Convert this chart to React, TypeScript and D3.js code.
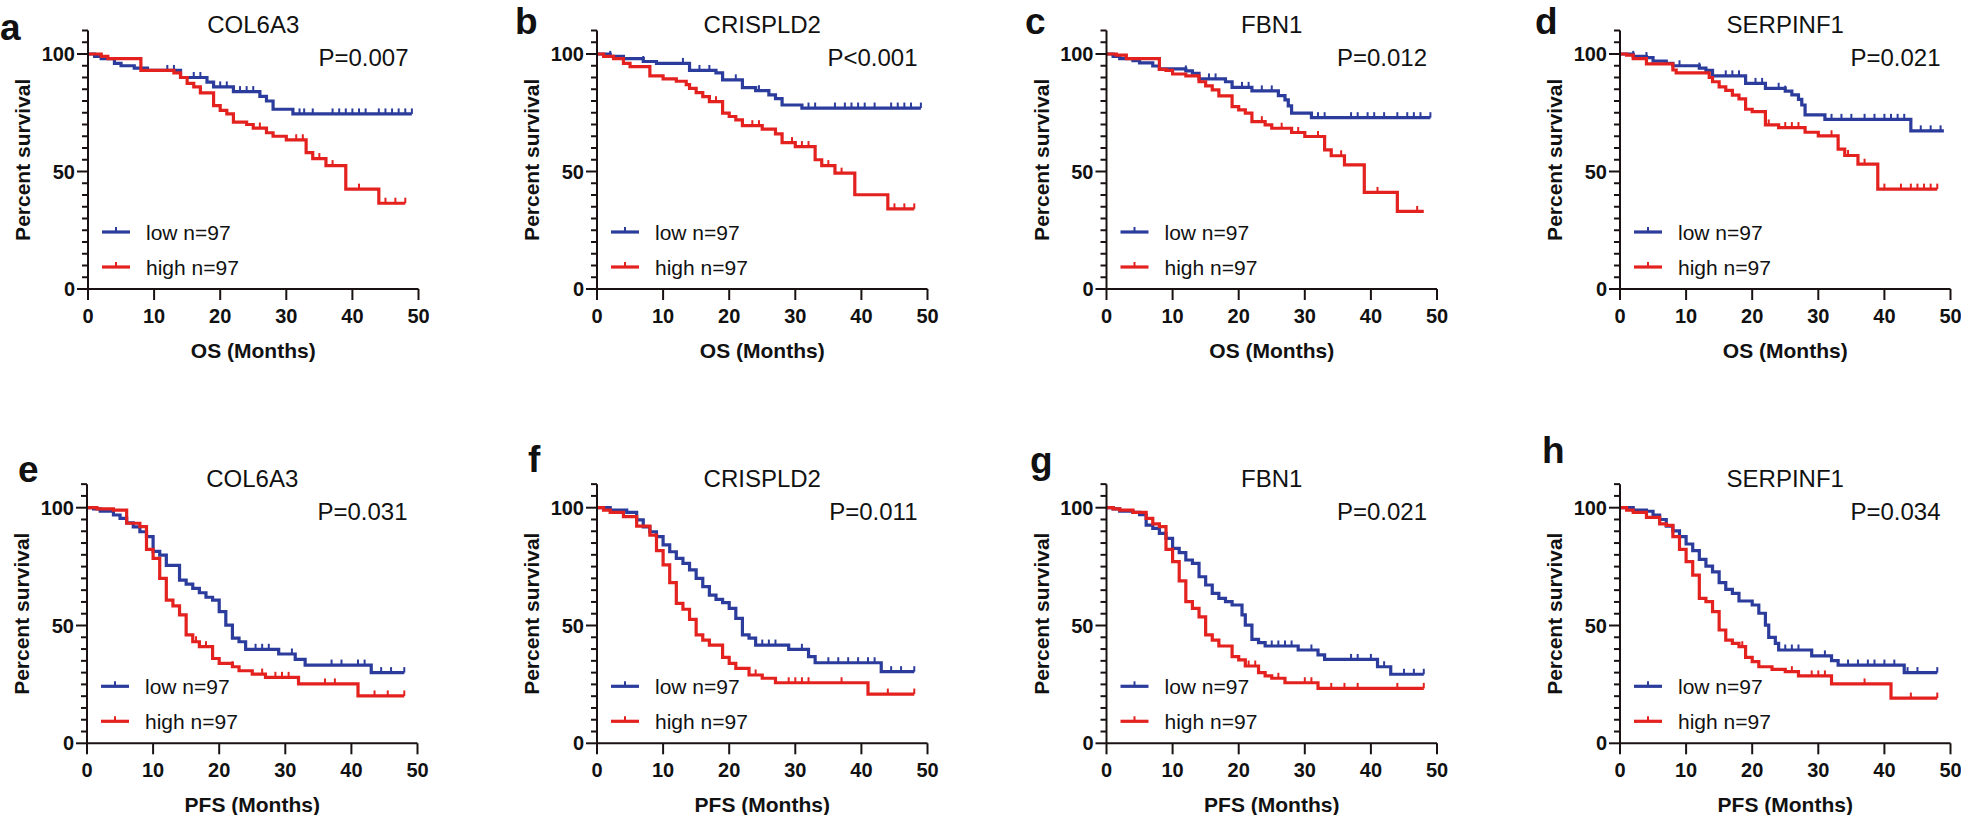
import React from "react";
import * as d3 from "d3";

// ---------- DATA ----------
// step points: [month, percent survival after the step]; censor: months
const osCol6a3Low = [[1,99],[2,98],[4,96],[5,95],[7,94],[9,93],[14,90],[18,88],[19,86],[22,84],[26,82],[27,80],[28,76.5],[31,74.5]];
const osCol6a3LowCensor = [12,13,16,17,20,21,23,24,25,32,32.7,34,37,38,39,40,41,42,44,45,46,47,48,49];
const osCol6a3High = [[2,99],[3,98],[8,93],[13,92],[14,90],[15,87.5],[16,86],[17,83.5],[19,78],[20,76],[21,74.5],[22,71],[24,70],[25,68.5],[27,66.5],[28,65],[30,63.5],[33,58],[34,55.5],[36,52.5],[39,42.5],[44,36.5]];
const osCol6a3HighCensor = [26,31.5,32.5,35,37,41,45,46.5,48];

const osCrispld2Low = [[2,99],[4,98],[7,96.8],[9,96],[14,93],[18,92],[19,89],[22,85.7],[24,84.4],[26,82.6],[27,81],[28,78.3],[31,77]];
const osCrispld2LowCensor = [2,7,13,15.5,17,21,24.5,32,33,36,37.5,38.5,39.5,40.5,42,44.5,45.5,46.5,47.5,49];
const osCrispld2High = [[1,99],[2.5,98],[4,96],[5,94.6],[8,90.7],[10,89.4],[12,88.4],[13.5,87],[14,85.4],[15,83.6],[16,81.9],[17,79.7],[19,74.8],[20,73.4],[21,72],[22,69.5],[25,68],[27,66],[28,62.3],[30,60.6],[33,55],[34,52.5],[36,49.3],[39,40.1],[44,34.1]];
const osCrispld2HighCensor = [18,23.5,24.5,29.5,31,32,35,37,45,46.5,48];

const osFbn1Low = [[1,99],[2,98],[4,97.2],[5,96.2],[7,94.9],[8,93.7],[12,92.8],[13,91.8],[14,89.4],[18,88.2],[19,85.8],[22,84.3],[26,82.3],[27,80.5],[27.5,77.9],[28,74.8],[31,72.9]];
const osFbn1LowCensor = [12,15.5,16.5,20.5,21.5,23.5,25,26,32,33,37,38,39.5,40.5,42,44,45.5,46.5,47.5,49];
const osFbn1High = [[1.5,99.5],[3,98],[8,93.5],[9,93],[10,91.5],[12,90.7],[14,88.2],[15,86.4],[16,84.7],[17,82.2],[19,77.6],[20,76.2],[21,74.8],[22,71.2],[24,69.8],[25,68.4],[28,66.6],[30,64.9],[33,59.2],[34,56.7],[36,52.8],[39,41.1],[44,33]];
const osFbn1HighCensor = [23.5,26.5,29,32,35.5,41,47];

const osSerpinf1Low = [[2,99],[4,98.5],[5,97],[7,96],[8,95],[12,94],[13,93],[14,90.7],[19,87.5],[22,85.4],[25,84.2],[26,82.6],[27,80.7],[27.5,78.3],[28,74.1],[31,72.2],[44,67.3]];
const osSerpinf1LowCensor = [2,4,9,12,16,17,18,20.5,21.5,24,25,32,33.5,35,37,38.5,40,41,42,43,45.5,47,48.5];
const osSerpinf1High = [[1,99.5],[2,98],[4,95.8],[8,93.2],[8.5,92],[13.5,90],[14,88.2],[15,86],[16,84.5],[17,82.5],[18,80.9],[19,76.5],[20,75.5],[22,69.8],[24,68.7],[28,66.7],[30,65.2],[33,59.5],[34,56.8],[36,53.1],[39,42.5]];
const osSerpinf1HighCensor = [22.5,25,26,27,28,32,34.5,37,40,42.5,44,45,46,47,48];

const pfsCol6a3Low = [[1,99.5],[2,98.5],[4,96.9],[5,95.5],[6,93.6],[7,91.9],[8,89.8],[9,87.7],[10,81.5],[11,79.9],[12,75.5],[14,69.3],[15,67.6],[16,65.8],[17,63.9],[18,62],[19,60.8],[20,55.9],[21,50.2],[22,44.6],[23,43.1],[24,39.9],[29,37.9],[31.5,35.6],[33,33.2],[43,30]];
const pfsCol6a3LowCensor = [25.5,26.5,27.5,31,37,38.5,41,42,44.5,46,48];
const pfsCol6a3High = [[1.5,99.5],[4,99],[6,93.4],[8,92],[9,82.3],[10,78.5],[11,70],[12,60.8],[13,58.3],[14,54.5],[15,46],[16,43.1],[17,41],[19,36],[20,33.9],[22,32.5],[23,30.8],[25,29.4],[27,28],[32,25.2],[41,20.1]];
const pfsCol6a3HighCensor = [16.5,18,22,26.5,28.5,29.5,30.5,36,37.5,43.5,45.5,48];

const pfsCrispld2Low = [[2,99],[4.5,98],[6,94.8],[7,91.9],[8,89.8],[9,87.7],[10,84.2],[11,81.3],[12,78.5],[13,76.4],[14,73.6],[15,70],[16,66.5],[17,62.9],[18,61.1],[19,59.7],[20,57.3],[21,53],[22,46],[23,44.6],[24,41.7],[29,39.9],[32,36.8],[33,34.2],[43,30.4]];
const pfsCrispld2LowCensor = [25,26,27,31,35,36.5,38,39.5,41,42,44.5,46,48];
const pfsCrispld2High = [[1,99],[2,98],[4,96.2],[6,92.2],[8,88.4],[9,81.8],[10,75.7],[11,68.2],[12,59.4],[13,56.9],[14,52.6],[15,46],[16,43.8],[17,41.7],[19,36.5],[20,33.9],[21,31.8],[23,29],[25,27.6],[27,25.7],[41,20.9]];
const pfsCrispld2HighCensor = [19,24,29,30,31,32,37,44,48];

const pfsFbn1Low = [[1,99.5],[2,98.5],[4,98],[5,97],[6,92.6],[7,91.2],[8,89.1],[9,87],[10,82.7],[11,80.9],[12,77.8],[13,76.4],[14,70.7],[15,67.2],[16,63.6],[17,61.5],[18,60.1],[19,58.7],[20.5,54.5],[21,50.2],[22,44.1],[23,42.7],[24,41.3],[29,39.6],[32,37.5],[33,35.6],[41,32.5],[43,29.3]];
const pfsFbn1LowCensor = [25,26,27,28,31,37,38,40,42,45,46.5,48];
const pfsFbn1High = [[1,99.5],[2,99],[4,98],[6,95.5],[7,93.1],[8,92],[9,82.3],[10,77.1],[11,68.9],[12,60.1],[13,57.3],[14,53.7],[15,46],[16,43.8],[17,41.3],[19,36.8],[20,35.4],[21,32.8],[23,30],[24,28.6],[25,27.6],[27,25.7],[32,23.3]];
const pfsFbn1HighCensor = [21.5,22.5,26,30,31,34,36,38,44,48];

const pfsSerpinf1Low = [[2,99],[4,98.5],[5,96.9],[6,95],[7,92.2],[8,90.2],[9,87.7],[10,84.6],[11,81.8],[12,78.1],[13,75.2],[14,72.8],[15,68.2],[16,65.3],[17,63.6],[18,60.4],[20,58.7],[21,55.2],[22,50.2],[22.5,45],[23.5,42.4],[24,39.6],[29,37.1],[32,35.1],[33,33.2],[43,30]];
const pfsSerpinf1LowCensor = [25,26,27,31,34.5,36,37.5,38.5,40,41.5,43.5,45,48];
const pfsSerpinf1High = [[1,99],[2,98],[4,95.9],[6,93.1],[7,92.5],[8,87.7],[9,82.3],[10,77.1],[11,71.4],[12,61.5],[13,60.1],[14,55.9],[15,48.1],[16,43.8],[17,42.4],[18,41],[19,36.5],[20,34.7],[21,32.5],[23,31.4],[25,30.4],[27,28.6],[32,25.2],[41,19.2]];
const pfsSerpinf1HighCensor = [18.5,26,29,30,31,37,44,48];

const panelLetters = ["a","b","c","d","e","f","g","h"];
const genes = ["COL6A3","CRISPLD2","FBN1","SERPINF1","COL6A3","CRISPLD2","FBN1","SERPINF1"];
const pValues = ["P=0.007","P<0.001","P=0.012","P=0.021","P=0.031","P=0.011","P=0.021","P=0.034"];
const xLabels = ["OS (Months)","PFS (Months)"];
const legendLabels = ["low n=97","high n=97"];
const xTicks = [0,10,20,30,40,50];
const yMajorTicks = [0,50,100];
const lowSeries = [osCol6a3Low,osCrispld2Low,osFbn1Low,osSerpinf1Low,pfsCol6a3Low,pfsCrispld2Low,pfsFbn1Low,pfsSerpinf1Low];
const lowCensors = [osCol6a3LowCensor,osCrispld2LowCensor,osFbn1LowCensor,osSerpinf1LowCensor,pfsCol6a3LowCensor,pfsCrispld2LowCensor,pfsFbn1LowCensor,pfsSerpinf1LowCensor];
const highSeries = [osCol6a3High,osCrispld2High,osFbn1High,osSerpinf1High,pfsCol6a3High,pfsCrispld2High,pfsFbn1High,pfsSerpinf1High];
const highCensors = [osCol6a3HighCensor,osCrispld2HighCensor,osFbn1HighCensor,osSerpinf1HighCensor,pfsCol6a3HighCensor,pfsCrispld2HighCensor,pfsFbn1HighCensor,pfsSerpinf1HighCensor];
const lowEnd = [49,49,49,49,48,48,48,48];
const highEnd = [48,48,48,48,48,48,48,48];

// ---------- LAYOUT ----------
const W = 1961, H = 815;
const BLUE = "#2b3c9c";
const RED = "#e3211e";
const AX = "#1a1212";
const FONT = "'Liberation Sans', Arial, sans-serif";
const colX = [88, 597, 1106.5, 1620];
const colXBottom = [87, 597, 1106.5, 1620];
const rowY0 = [289, 743.3];
const rowY100 = [54, 507.7];
const plotW = 330.5;
const letterPos = [[0,40],[515,34],[1025,34],[1535,34],[18,482],[528,472],[1030,473],[1542,463]];

function survAt(steps: number[][], t: number) {
  let s = 100;
  for (const [tt, v] of steps) { if (tt <= t) s = v; else break; }
  return s;
}

function Panel({ i }: { i: number }) {
  const row = i < 4 ? 0 : 1;
  const col = i % 4;
  const x0 = row === 0 ? colX[col] : colXBottom[col];
  const yZero = rowY0[row];
  const yHundred = rowY100[row];
  const x = d3.scaleLinear().domain([0, 50]).range([x0, x0 + plotW]);
  const y = d3.scaleLinear().domain([0, 100]).range([yZero, yHundred]);
  const line = d3.line<number[]>().x(d => x(d[0])).y(d => y(d[1])).curve(d3.curveStepAfter);
  const mk = (steps: number[][], end: number) => {
    const pts = [[0, 100], ...steps];
    pts.push([end, steps[steps.length - 1][1]]);
    return line(pts) || "";
  };
  const series = [
    { steps: lowSeries[i], cens: lowCensors[i], end: lowEnd[i], color: BLUE },
    { steps: highSeries[i], cens: highCensors[i], end: highEnd[i], color: RED },
  ];
  const minorTicks = d3.range(5, 111, 5).filter(v => v % 50 !== 0);
  const [lx, ly] = letterPos[i];
  const plotCx = x(25);
  return (
    <g>
      <text x={lx} y={ly} fontFamily={FONT} fontWeight="bold" fontSize={37} fill="#111">{panelLetters[i]}</text>
      <text x={plotCx} y={yHundred - 21} textAnchor="middle" fontFamily={FONT} fontSize={24} fill="#111">{genes[i]}</text>
      <text x={x(50) - 10} y={yHundred + 12} textAnchor="end" fontFamily={FONT} fontSize={24} fill="#111">{pValues[i]}</text>
      {series.map((s, k) => (
        <g key={k}>
          <path d={mk(s.steps, s.end)} fill="none" stroke={s.color} strokeWidth={3.2} />
          {s.cens.map((t, j) => (
            <line key={j} x1={x(t)} x2={x(t)} y1={y(survAt(s.steps, t))} y2={y(survAt(s.steps, t)) - 5.5} stroke={s.color} strokeWidth={2} />
          ))}
        </g>
      ))}
      <line x1={x0} x2={x0} y1={yZero} y2={y(110)} stroke={AX} strokeWidth={2} />
      <line x1={x0} x2={x(50)} y1={yZero} y2={yZero} stroke={AX} strokeWidth={2} />
      {minorTicks.map(v => (
        <line key={v} x1={x0 - 6} x2={x0} y1={y(v)} y2={y(v)} stroke={AX} strokeWidth={2} />
      ))}
      {yMajorTicks.map(v => (
        <g key={v}>
          <line x1={x0 - 11} x2={x0} y1={y(v)} y2={y(v)} stroke={AX} strokeWidth={2} />
          <text x={x0 - 13} y={y(v) + 7} textAnchor="end" fontFamily={FONT} fontWeight="bold" fontSize={20} fill="#111">{v}</text>
        </g>
      ))}
      {xTicks.map(v => (
        <g key={v}>
          <line x1={x(v)} x2={x(v)} y1={yZero} y2={yZero + 11} stroke={AX} strokeWidth={2} />
          <text x={x(v)} y={yZero + 34} textAnchor="middle" fontFamily={FONT} fontWeight="bold" fontSize={20} fill="#111">{v}</text>
        </g>
      ))}
      <text x={plotCx} y={yZero + 69} textAnchor="middle" fontFamily={FONT} fontWeight="bold" fontSize={21} fill="#111">{xLabels[row]}</text>
      <text transform={`translate(${x0 - 58},${y(55)}) rotate(-90)`} textAnchor="middle" fontFamily={FONT} fontWeight="bold" fontSize={21} fill="#111">Percent survival</text>
      {legendLabels.map((lab, k) => {
        const ly2 = yZero - (k === 0 ? 57 : 22);
        const c = k === 0 ? BLUE : RED;
        return (
          <g key={k}>
            <line x1={x0 + 14} x2={x0 + 42} y1={ly2} y2={ly2} stroke={c} strokeWidth={3.2} />
            <line x1={x0 + 28} x2={x0 + 28} y1={ly2} y2={ly2 - 5} stroke={c} strokeWidth={2} />
            <text x={x0 + 58} y={ly2 + 7.5} fontFamily={FONT} fontSize={21} fill="#111">{lab}</text>
          </g>
        );
      })}
    </g>
  );
}

export default function App() {
  return (
    <svg width={W} height={H} style={{ position: "absolute", left: 0, top: 0, background: "#fff" }}>
      <rect width={W} height={H} fill="#fff" />
      {panelLetters.map((_, i) => <Panel key={i} i={i} />)}
    </svg>
  );
}
